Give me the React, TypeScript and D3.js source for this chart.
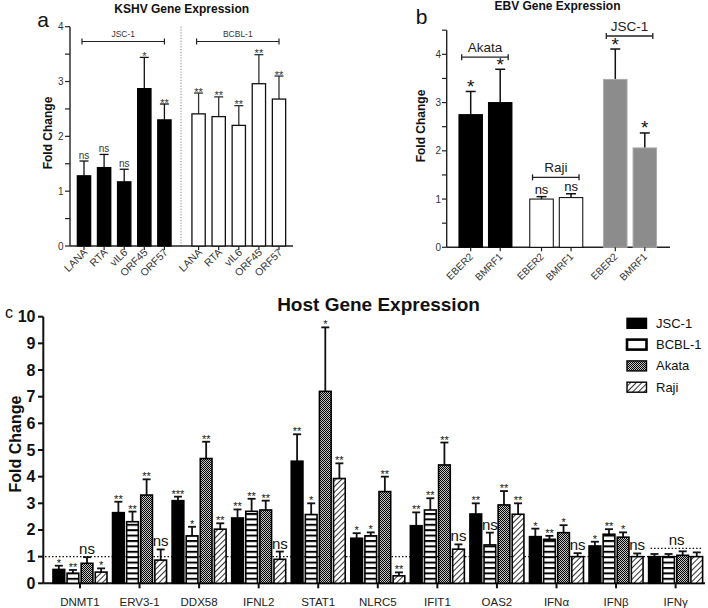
import React from 'react';
import * as d3 from 'd3';

// ---------- Panel a: KSHV gene expression ----------
const kshvGenes = ['LANA', 'RTA', 'vIL6', 'ORF45', 'ORF57'];
const kshvGroups = ['JSC-1', 'BCBL-1'];
const kshvJsc = [1.28, 1.43, 1.17, 2.87, 2.30];
const kshvJscErr = [0.27, 0.24, 0.23, 0.57, 0.29];
const kshvJscSig = ['ns', 'ns', 'ns', '*', '**'];
const kshvBcbl = [2.41, 2.36, 2.20, 2.96, 2.68];
const kshvBcblErr = [0.38, 0.36, 0.36, 0.53, 0.42];
const kshvBcblSig = ['**', '**', '**', '**', '**'];
const kshvTicks = [0, 1, 2, 3, 4];

// ---------- Panel b: EBV gene expression ----------
const ebvGenes = ['EBER2', 'BMRF1'];
const ebvGroups = ['Akata', 'Raji', 'JSC-1'];
const ebvAkata = [2.75, 3.00];
const ebvAkataErr = [0.48, 0.69];
const ebvRaji = [1.00, 1.03];
const ebvRajiErr = [0.05, 0.08];
const ebvJsc = [3.48, 2.06];
const ebvJscErr = [0.63, 0.31];
const ebvAkataSig = ['*', '*'];
const ebvRajiSig = ['ns', 'ns'];
const ebvJscSig = ['*', '*'];
const ebvBracketLevels = [3.94, 1.45, 4.38];
const ebvTicks = [0, 1, 2, 3, 4];

// ---------- Panel c: host gene expression ----------
const hostGenes = ['DNMT1', 'ERV3-1', 'DDX58', 'IFNL2', 'STAT1', 'NLRC5', 'IFIT1', 'OAS2', 'IFNα', 'IFNβ', 'IFNγ'];
const hostSeries = ['JSC-1', 'BCBL-1', 'Akata', 'Raji'];
const hostJsc = [0.52, 2.65, 3.10, 2.45, 4.58, 1.69, 2.16, 2.60, 1.75, 1.40, 1.00];
const hostJscErr = [0.14, 0.41, 0.15, 0.32, 1.01, 0.19, 0.50, 0.40, 0.30, 0.16, 0.10];
const hostJscSig = ['*', '**', '***', '**', '**', '*', '**', '**', '*', '*', ''];
const hostBcbl = [0.38, 2.31, 1.78, 2.70, 2.58, 1.78, 2.75, 1.44, 1.65, 1.84, 1.00];
const hostBcblErr = [0.12, 0.38, 0.34, 0.47, 0.42, 0.13, 0.44, 0.46, 0.13, 0.19, 0.10];
const hostBcblSig = ['**', '**', '*', '**', '*', '*', '**', 'ns', '**', '**', ''];
const hostAkata = [0.75, 3.31, 4.68, 2.75, 7.20, 3.44, 4.44, 2.94, 1.90, 1.73, 1.05];
const hostAkataErr = [0.23, 0.59, 0.63, 0.35, 2.40, 0.56, 0.84, 0.52, 0.28, 0.18, 0.15];
const hostAkataSig = ['ns', '**', '**', '**', '*', '**', '**', '**', '*', '*', ''];
const hostRaji = [0.42, 0.87, 2.03, 0.90, 3.93, 0.28, 1.28, 2.59, 1.00, 1.00, 1.00];
const hostRajiErr = [0.14, 0.40, 0.22, 0.29, 0.57, 0.13, 0.18, 0.41, 0.13, 0.12, 0.16];
const hostRajiSig = ['*', 'ns', '**', 'ns', '**', '**', 'ns', '**', 'ns', 'ns', ''];
const hostTicks = [0, 1, 2, 3, 4, 5, 6, 7, 8, 9, 10];
const hostGroupSigGene = 'IFNγ';
const hostGroupSigLevel = 1.31;

const FONT = "'Liberation Sans', Arial, Helvetica, sans-serif";

export default function App() {
  // ===== Panel a scales =====
  const slotA = (g: number, i: number) => i + g * 5.7;
  const xA = d3.scaleLinear().domain([0, 9.7]).range([84, 279]);
  const yA = d3.scaleLinear().domain([0, 4]).range([246, 26.7]);
  const bwA = 13.3;
  const aData = [
    { vals: kshvJsc, errs: kshvJscErr, sig: kshvJscSig, fill: '#000', stroke: '#000', err: '#111' },
    { vals: kshvBcbl, errs: kshvBcblErr, sig: kshvBcblSig, fill: '#fff', stroke: '#111', err: '#333' },
  ];
  const aMinor = d3.range(0, 4.01, 0.5);

  // ===== Panel b scales =====
  const slotB = [[0, 1], [2.4, 3.4], [4.9, 5.9]];
  const xB = d3.scaleLinear().domain([0, 5.9]).range([470.7, 644.8]);
  const yB = d3.scaleLinear().domain([0, 4.5]).range([247.3, 30.2]);
  const bwB = 23.5;
  const bData = [
    { vals: ebvAkata, errs: ebvAkataErr, sig: ebvAkataSig, fill: '#000', stroke: '#000' },
    { vals: ebvRaji, errs: ebvRajiErr, sig: ebvRajiSig, fill: '#fff', stroke: '#000' },
    { vals: ebvJsc, errs: ebvJscErr, sig: ebvJscSig, fill: '#8c8c8c', stroke: '#ababab' },
  ];
  const bMinor = d3.range(0, 4.51, 0.5);

  // ===== Panel c scales =====
  const xC = d3.scaleBand<string>().domain(hostGenes).range([50.2, 705.4]).padding(0);
  const xInner = d3.scaleBand<string>().domain(hostSeries).range([0, 54]).paddingInner(0.17);
  const groupW = 54;
  const yC = d3.scaleLinear().domain([0, 10]).range([583.3, 316.7]);
  const cData = [
    { vals: hostJsc, errs: hostJscErr, sig: hostJscSig, fill: '#000' },
    { vals: hostBcbl, errs: hostBcblErr, sig: hostBcblSig, fill: 'url(#ladder)' },
    { vals: hostAkata, errs: hostAkataErr, sig: hostAkataSig, fill: 'url(#checker)' },
    { vals: hostRaji, errs: hostRajiErr, sig: hostRajiSig, fill: 'url(#hatch)' },
  ];
  const cCenter = (g: string) => (xC(g) as number) + xC.bandwidth() / 2;

  return (
    <svg width={708} height={608} style={{ position: 'absolute', left: 0, top: 0, background: '#fff' }} fontFamily={FONT}>
      <defs>
        <pattern id="ladder" patternUnits="userSpaceOnUse" width={8} height={5.4}>
          <rect width={8} height={5.4} fill="#fff" />
          <rect width={8} height={2} fill="#000" />
        </pattern>
        <pattern id="checker" patternUnits="userSpaceOnUse" width={2} height={2}>
          <rect width={2} height={2} fill="#c4c4c4" />
          <rect width={1} height={1} fill="#000" />
          <rect x={1} y={1} width={1} height={1} fill="#000" />
        </pattern>
        <pattern id="hatch" patternUnits="userSpaceOnUse" width={4} height={4} patternTransform="rotate(45)">
          <rect width={4} height={4} fill="#fff" />
          <line x1={0} y1={0} x2={0} y2={4} stroke="#000" strokeWidth={1.6} />
        </pattern>
      </defs>
      <rect width={708} height={608} fill="#fff" />

      {/* ================= Panel a ================= */}
      <g>
        <text x={181.7} y={12.5} textAnchor="middle" fontSize={12} fontWeight="bold" fill="#111">KSHV Gene Expression</text>
        <text x={43} y={27} textAnchor="middle" fontSize={21} fill="#111">a</text>
        <text transform={`translate(52,133) rotate(-90)`} textAnchor="middle" fontSize={12} fontWeight="bold" fill="#111">Fold Change</text>
        {/* separator */}
        <line x1={181} x2={181} y1={yA(4)} y2={yA(0)} stroke="#666" strokeWidth={0.8} strokeDasharray="1.2,1.6" />
        {/* y axis */}
        <line x1={70} x2={70} y1={yA(4)} y2={yA(0)} stroke="#222" strokeWidth={1.4} />
        {aMinor.map((t) => (
          <line key={'am' + t} x1={65} x2={70} y1={yA(t)} y2={yA(t)} stroke="#222" strokeWidth={1.2} />
        ))}
        {kshvTicks.map((t) => (
          <text key={'at' + t} x={63.5} y={yA(t) + 3.5} textAnchor="end" fontSize={10} fill="#333">{t}</text>
        ))}
        {/* x axis */}
        <line x1={70} x2={293} y1={yA(0)} y2={yA(0)} stroke="#222" strokeWidth={1.4} />
        {aData.map((s, g) =>
          kshvGenes.map((gene, i) => {
            const cx = xA(slotA(g, i));
            const top = yA(s.vals[i]);
            const et = yA(s.vals[i] + s.errs[i]);
            const isNs = s.sig[i] === 'ns';
            return (
              <g key={'a' + g + i}>
                <line x1={cx} x2={cx} y1={top} y2={et} stroke={s.err} strokeWidth={1.3} />
                <line x1={cx - 4.5} x2={cx + 4.5} y1={et} y2={et} stroke={s.err} strokeWidth={1.3} />
                <rect x={cx - bwA / 2} y={top} width={bwA} height={yA(0) - top} fill={s.fill} stroke={s.stroke} strokeWidth={1.3} />
                <text x={cx} y={isNs ? et - 2.5 : et + 2.5} textAnchor="middle" fontSize={isNs ? 10 : 11} fill="#333">{s.sig[i]}</text>
                <line x1={cx} x2={cx} y1={yA(0)} y2={yA(0) + 4} stroke="#222" strokeWidth={1.2} />
                <text transform={`translate(${cx + 4},${yA(0) + 7}) rotate(-45)`} textAnchor="end" fontSize={10.5} fill="#333">{gene}</text>
              </g>
            );
          })
        )}
        {kshvGroups.map((grp, g) => {
          const x1 = xA(slotA(g, 0)) - 2;
          const x2 = xA(slotA(g, 4));
          const yb = yA(3.73);
          return (
            <g key={'ab' + g}>
              <line x1={x1} x2={x2} y1={yb} y2={yb} stroke="#222" strokeWidth={1.2} />
              <line x1={x1} x2={x1} y1={yb - 3} y2={yb + 3} stroke="#222" strokeWidth={1.2} />
              <line x1={x2} x2={x2} y1={yb - 3} y2={yb + 3} stroke="#222" strokeWidth={1.2} />
              <text x={(x1 + x2) / 2} y={yb - 5} textAnchor="middle" fontSize={8.5} fill="#333">{grp}</text>
            </g>
          );
        })}
      </g>

      {/* ================= Panel b ================= */}
      <g>
        <text x={557.5} y={10} textAnchor="middle" fontSize={12} fontWeight="bold" fill="#111">EBV Gene Expression</text>
        <text x={421.5} y={24} textAnchor="middle" fontSize={21} fill="#111">b</text>
        <text transform={`translate(424.5,126) rotate(-90)`} textAnchor="middle" fontSize={12} fontWeight="bold" fill="#111">Fold Change</text>
        <line x1={446.7} x2={446.7} y1={yB(4.5)} y2={yB(0)} stroke="#222" strokeWidth={1.4} />
        {bMinor.map((t) => (
          <line key={'bm' + t} x1={442} x2={446.7} y1={yB(t)} y2={yB(t)} stroke="#222" strokeWidth={1.2} />
        ))}
        {ebvTicks.map((t) => (
          <text key={'bt' + t} x={441} y={yB(t) + 3.5} textAnchor="end" fontSize={10} fill="#333">{t}</text>
        ))}
        <line x1={446.7} x2={670} y1={yB(0)} y2={yB(0)} stroke="#222" strokeWidth={1.4} />
        {bData.map((s, g) =>
          ebvGenes.map((gene, i) => {
            const cx = xB(slotB[g][i]);
            const top = yB(s.vals[i]);
            const et = yB(s.vals[i] + s.errs[i]);
            const isNs = s.sig[i] === 'ns';
            return (
              <g key={'b' + g + i}>
                <line x1={cx} x2={cx} y1={top} y2={et} stroke="#111" strokeWidth={1.5} />
                <line x1={cx - 5} x2={cx + 5} y1={et} y2={et} stroke="#111" strokeWidth={1.5} />
                <rect x={cx - bwB / 2} y={top} width={bwB} height={yB(0) - top} fill={s.fill} stroke={s.stroke} strokeWidth={1} />
                <text x={cx} y={isNs ? et - 3 : et + 1.5} textAnchor="middle" fontSize={isNs ? 13 : 19} fill="#111">{s.sig[i]}</text>
                <line x1={cx} x2={cx} y1={yB(0)} y2={yB(0) + 4} stroke="#222" strokeWidth={1.2} />
                <text transform={`translate(${cx + 3},${yB(0) + 10}) rotate(-45)`} textAnchor="end" fontSize={10} fill="#333">{gene}</text>
              </g>
            );
          })
        )}
        {ebvGroups.map((grp, g) => {
          const x1 = xB(slotB[g][0]) - 9;
          const x2 = xB(slotB[g][1]) + 8;
          const yb = yB(ebvBracketLevels[g]);
          return (
            <g key={'bb' + g}>
              <line x1={x1} x2={x2} y1={yb} y2={yb} stroke="#222" strokeWidth={1.3} />
              <line x1={x1} x2={x1} y1={yb - 3} y2={yb + 3} stroke="#222" strokeWidth={1.3} />
              <line x1={x2} x2={x2} y1={yb - 3} y2={yb + 3} stroke="#222" strokeWidth={1.3} />
              <text x={(x1 + x2) / 2} y={yb - 5} textAnchor="middle" fontSize={13.5} fill="#222">{grp}</text>
            </g>
          );
        })}
      </g>

      {/* ================= Panel c ================= */}
      <g>
        <text x={378.5} y={311} textAnchor="middle" fontSize={19} fontWeight="bold" fill="#111">Host Gene Expression</text>
        <text x={9} y={318} textAnchor="middle" fontSize={16} fill="#111">c</text>
        <text transform={`translate(21,444) rotate(-90)`} textAnchor="middle" fontSize={16} fontWeight="bold" fill="#111">Fold Change</text>
        {/* reference line */}
        <line x1={45} x2={703} y1={yC(1)} y2={yC(1)} stroke="#111" strokeWidth={1.3} strokeDasharray="1.5,2" />
        {/* y axis */}
        <line x1={43.3} x2={43.3} y1={yC(10)} y2={yC(0)} stroke="#111" strokeWidth={2} />
        {hostTicks.map((t) => (
          <g key={'ct' + t}>
            <line x1={38} x2={43.3} y1={yC(t)} y2={yC(t)} stroke="#111" strokeWidth={2} />
            <text x={35.5} y={yC(t) + 5.5} textAnchor="end" fontSize={16} fontWeight="bold" fill="#111">{t}</text>
          </g>
        ))}
        {/* x axis */}
        <line x1={43.3} x2={705} y1={yC(0)} y2={yC(0)} stroke="#111" strokeWidth={2} />
        {hostGenes.map((gene) => (
          <g key={'cx' + gene}>
            <line x1={cCenter(gene)} x2={cCenter(gene)} y1={yC(0)} y2={yC(0) + 5} stroke="#111" strokeWidth={2} />
            <text x={cCenter(gene)} y={606} textAnchor="middle" fontSize={11.5} fill="#222">{gene}</text>
          </g>
        ))}
        {cData.map((s, k) =>
          hostGenes.map((gene, i) => {
            const x0 = cCenter(gene) - groupW / 2 + (xInner(hostSeries[k]) as number);
            const bw = xInner.bandwidth();
            const cx = x0 + bw / 2;
            const top = yC(s.vals[i]);
            const et = yC(s.vals[i] + s.errs[i]);
            const isNs = s.sig[i] === 'ns';
            return (
              <g key={'c' + k + i}>
                <line x1={cx} x2={cx} y1={top} y2={et} stroke="#111" strokeWidth={1.8} />
                <line x1={cx - 4} x2={cx + 4} y1={et} y2={et} stroke="#111" strokeWidth={1.8} />
                <rect x={x0} y={top} width={bw} height={yC(0) - top} fill={s.fill} stroke="#000" strokeWidth={1.6} />
                {s.sig[i] && (
                  <text x={cx} y={isNs ? et - 3 : et + 1} textAnchor="middle" fontSize={isNs ? 15 : 11} fill="#111">{s.sig[i]}</text>
                )}
              </g>
            );
          })
        )}
        {(() => {
          const c = cCenter(hostGroupSigGene);
          const yy = yC(hostGroupSigLevel);
          return (
            <g>
              <line x1={c - 25} x2={c + 26} y1={yy} y2={yy} stroke="#111" strokeWidth={1.3} strokeDasharray="1.5,2" />
              <text x={c + 1} y={yy - 3} textAnchor="middle" fontSize={15} fill="#111">ns</text>
            </g>
          );
        })()}
        {/* legend */}
        {hostSeries.map((name, k) => {
          const ly = 318.3 + k * 21.3;
          return (
            <g key={'lg' + name}>
              <rect x={627} y={ly} width={19.5} height={10} fill={k === 1 ? '#fff' : cData[k].fill} stroke="#000" strokeWidth={k === 1 ? 2.6 : 1.4} />
              <text x={656} y={ly + 9.5} fontSize={13} fill="#111">{name}</text>
            </g>
          );
        })}
      </g>
    </svg>
  );
}
